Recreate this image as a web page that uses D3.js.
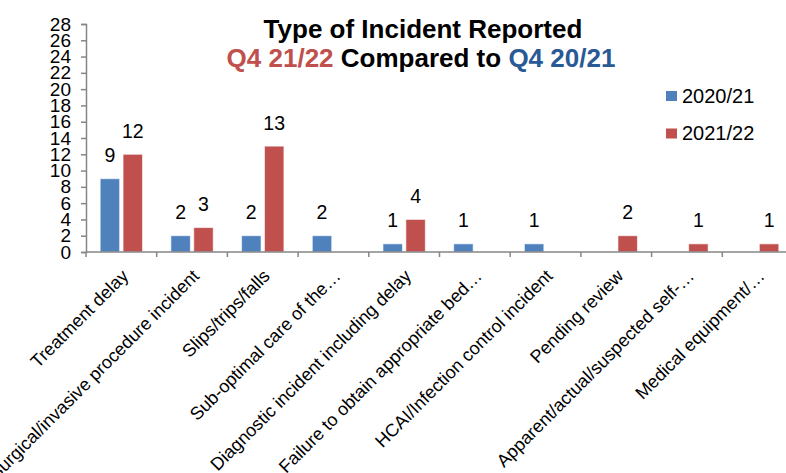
<!DOCTYPE html>
<html>
<head>
<meta charset="utf-8">
<script src="https://cdn.jsdelivr.net/npm/d3@7"></script>
<style>
  html, body { margin: 0; padding: 0; background: #fff; }
  svg { display: block; font-family: "Liberation Sans", Arial, sans-serif; }
</style>
</head>
<body>
<svg id="chart" width="786" height="473"></svg>
<script>
// Incident categories (long names are shortened with an ellipsis, as displayed)
const categories = [
  "Treatment delay",
  "Surgical/invasive procedure incident",
  "Slips/trips/falls",
  "Sub-optimal care of the\u2026",
  "Diagnostic incident including delay",
  "Failure to obtain appropriate bed\u2026",
  "HCAI/Infection control incident",
  "Pending review",
  "Apparent/actual/suspected self-\u2026",
  "Medical equipment/\u2026"
];
const seriesNames = ["2020/21", "2021/22"];
const values2021 = [9, 2, 2, 2, 1, 1, 1, 0, 0, 0];
const values2122 = [12, 3, 13, 0, 4, 0, 0, 2, 1, 1];
const yTicks = [0, 2, 4, 6, 8, 10, 12, 14, 16, 18, 20, 22, 24, 26, 28];
const colors = ["#4F81BD", "#C0504D"];

const svg = d3.select("#chart");
const plotLeft = 86, plotRight = 793, plotTop = 24, plotBottom = 252;

const x = d3.scaleBand().domain(categories).range([plotLeft, plotRight]).paddingInner(0).paddingOuter(0);
const xs = d3.scaleBand().domain(seriesNames).range([0, x.bandwidth()]).paddingInner(0.15).paddingOuter(0.62);
const y = d3.scaleLinear().domain([0, 28]).range([plotBottom, plotTop]);

// Y axis
const yAxis = svg.append("g").attr("transform", `translate(${plotLeft},0)`)
  .call(d3.axisLeft(y).tickValues(yTicks).tickSize(5).tickPadding(10));
yAxis.select(".domain").attr("stroke", "#868686").attr("stroke-width", 1.5);
yAxis.selectAll(".tick line").attr("stroke", "#868686").attr("stroke-width", 1.5);
yAxis.selectAll(".tick text").attr("fill", "#000").attr("font-size", 19)
  .attr("font-family", "Liberation Sans, Arial, sans-serif");

// Bars
const data = categories.map((c, i) => ({ c, vals: [values2021[i], values2122[i]] }));
const groups = svg.append("g").selectAll("g").data(data).join("g")
  .attr("transform", d => `translate(${x(d.c)},0)`);
groups.selectAll("rect")
  .data(d => d.vals.map((v, j) => ({ v, s: seriesNames[j], j })).filter(d => d.v > 0))
  .join("rect")
  .attr("x", d => xs(d.s))
  .attr("y", d => y(d.v))
  .attr("width", xs.bandwidth())
  .attr("height", d => y(0) - y(d.v))
  .attr("fill", d => colors[d.j])
  .attr("stroke", "#ffffff").attr("stroke-opacity", 0.6).attr("stroke-width", 1);

// Value labels
groups.selectAll("text.val")
  .data(d => d.vals.map((v, j) => ({ v, s: seriesNames[j] })).filter(d => d.v > 0))
  .join("text").attr("class", "val")
  .attr("x", d => xs(d.s) + xs.bandwidth() / 2)
  .attr("y", d => y(d.v) - 16.5)
  .attr("text-anchor", "middle")
  .attr("font-size", 19.5)
  .text(d => d.v);

// X axis
const xAxisG = svg.append("g").attr("transform", `translate(0,${plotBottom})`);
xAxisG.append("line").attr("x1", plotLeft).attr("x2", plotRight).attr("y1", 0).attr("y2", 0)
  .attr("stroke", "#868686").attr("stroke-width", 1.5);
xAxisG.selectAll("line.tk").data(categories.map(c => x(c)).concat([plotRight]))
  .join("line").attr("class", "tk")
  .attr("x1", d => d).attr("x2", d => d).attr("y1", 0).attr("y2", 5)
  .attr("stroke", "#868686").attr("stroke-width", 1.5);
xAxisG.selectAll("text.lbl").data(categories).join("text").attr("class", "lbl")
  .attr("transform", d => `translate(${x(d) + x.bandwidth() / 2 - 1},16) rotate(-45)`)
  .attr("text-anchor", "end")
  .attr("dy", "0.72em")
  .attr("font-size", 18)
  .text(d => d);

// Title
const title = svg.append("g").attr("font-weight", "bold").attr("font-size", 26).attr("text-anchor", "middle");
title.append("text").attr("x", 423).attr("y", 38).text("Type of Incident Reported");
const t2 = title.append("text").attr("x", 421).attr("y", 67);
t2.append("tspan").attr("fill", "#C0504D").text("Q4 21/22");
t2.append("tspan").attr("fill", "#000").text(" Compared to ");
t2.append("tspan").attr("fill", "#2A5A95").text("Q4 20/21");

// Legend
const legend = svg.append("g").selectAll("g").data(seriesNames).join("g")
  .attr("transform", (d, i) => `translate(666,${91 + i * 37.5})`);
legend.append("rect").attr("width", 11).attr("height", 10).attr("fill", (d, i) => colors[i]);
legend.append("text").attr("x", 16).attr("y", 11.5).attr("font-size", 20).text(d => d);
</script>
</body>
</html>
